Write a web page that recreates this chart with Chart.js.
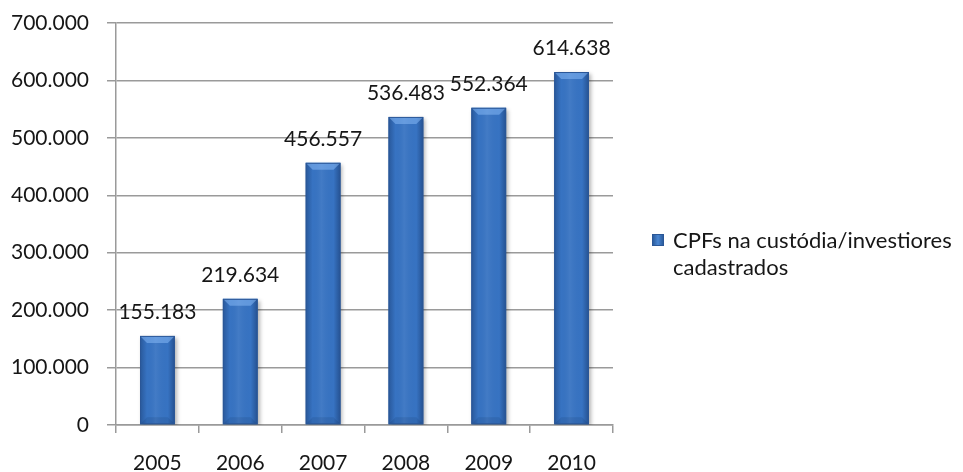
<!DOCTYPE html>
<html>
<head>
<meta charset="utf-8">
<script src="https://cdn.jsdelivr.net/npm/chart.js@4.4.1/dist/chart.umd.min.js"></script>
<style>
  html, body { margin: 0; padding: 0; background: #fff; }
  #wrap { position: relative; width: 963px; height: 472px; }
  #legend {
    position: absolute; left: 652px; top: 226px;
    font-family: Lato, sans-serif; font-size: 22px; line-height: 27px; color: #161616;
  }
  #legend .box {
    position: absolute; left: 0; top: 8px; width: 12px; height: 12px;
    background: linear-gradient(90deg, #2c5d9e, #4a86d2 50%, #2c5d9e);
    border: 1px solid #2b5797; box-sizing: border-box;
  }
  #legend .txt { margin-left: 21px; }
</style>
</head>
<body>
<div id="wrap">
  <canvas id="chart" width="963" height="472"></canvas>
  <div id="legend"><span class="box"></span><div class="txt">CPFs na custódia/investiores<br>cadastrados</div></div>
</div>
<script>
// Dados
const years = ['2005', '2006', '2007', '2008', '2009', '2010'];
const investors = [155183, 219634, 456557, 536483, 552364, 614638];
const yTicks = [0, 100000, 200000, 300000, 400000, 500000, 600000, 700000];

const FONT = 'Lato, sans-serif';
const TEXT = '#161616';

// 700000 -> "700.000"
function fmt(v) {
  return String(Math.round(v)).replace(/\B(?=(\d{3})+(?!\d))/g, '.');
}

// shading that imitates the bevelled Excel bars
const bevelBars = {
  id: 'bevelBars',
  beforeDatasetDraw(chart) {
    const ctx = chart.ctx;
    ctx.save();
    ctx.shadowColor = 'rgba(0,0,0,0.3)';
    ctx.shadowBlur = 4;
    ctx.shadowOffsetX = 2;
    ctx.shadowOffsetY = 2;
  },
  afterDatasetDraw(chart, args) {
    const ctx = chart.ctx;
    ctx.restore();
    args.meta.data.forEach(bar => {
      const x0 = bar.x - bar.width / 2, x1 = bar.x + bar.width / 2;
      const top = bar.y, bottom = bar.base;
      const b = 7;
      ctx.save();
      const g = ctx.createLinearGradient(x0, 0, x1, 0);
      g.addColorStop(0, 'rgba(10,30,70,0.32)');
      g.addColorStop(0.2, 'rgba(10,30,70,0.0)');
      g.addColorStop(0.45, 'rgba(255,255,255,0.06)');
      g.addColorStop(0.8, 'rgba(10,30,70,0.0)');
      g.addColorStop(1, 'rgba(10,30,70,0.40)');
      ctx.fillStyle = g;
      ctx.fillRect(x0, top, x1 - x0, bottom - top);
      // top bevel
      ctx.beginPath();
      ctx.moveTo(x0, top);
      ctx.lineTo(x1, top);
      ctx.lineTo(x1 - b, top + b);
      ctx.lineTo(x0 + b, top + b);
      ctx.closePath();
      ctx.fillStyle = 'rgba(140,190,250,0.5)';
      ctx.fill();
      // bottom bevel
      ctx.beginPath();
      ctx.moveTo(x0, bottom);
      ctx.lineTo(x1, bottom);
      ctx.lineTo(x1 - b, bottom - b);
      ctx.lineTo(x0 + b, bottom - b);
      ctx.closePath();
      ctx.fillStyle = 'rgba(10,30,70,0.12)';
      ctx.fill();
      ctx.strokeStyle = '#2b5797';
      ctx.lineWidth = 1;
      ctx.strokeRect(x0 + 0.5, top + 0.5, x1 - x0 - 1, bottom - top - 1);
      ctx.restore();
    });
  }
};

// value labels above each bar
const valueLabels = {
  id: 'valueLabels',
  afterDatasetsDraw(chart) {
    const ctx = chart.ctx;
    const meta = chart.getDatasetMeta(0);
    ctx.save();
    ctx.font = '21px ' + FONT;
    ctx.fillStyle = TEXT;
    ctx.textAlign = 'center';
    ctx.textBaseline = 'middle';
    meta.data.forEach((bar, i) => {
      ctx.fillText(fmt(investors[i]), bar.x, bar.y - 24);
    });
    ctx.restore();
  }
};

new Chart(document.getElementById('chart'), {
  type: 'bar',
  data: {
    labels: years,
    datasets: [{
      label: 'CPFs na custódia/investiores cadastrados',
      data: investors,
      backgroundColor: '#3773c2',
      borderWidth: 0,
      categoryPercentage: 1,
      barPercentage: 0.42,
    }],
  },
  options: {
    responsive: false,
    animation: false,
    events: [],
    layout: { padding: { left: 0, right: 350, top: 23, bottom: 0 } },
    plugins: { legend: { display: false }, tooltip: { enabled: false } },
    scales: {
      x: {
        afterFit: s => { s.height = 47; s.paddingLeft = 0; s.paddingRight = 0; },
        grid: { drawOnChartArea: false, drawTicks: true, tickLength: 8, color: '#9a9a9a', lineWidth: 1.5 },
        border: { color: '#9a9a9a', width: 1.5 },
        ticks: { color: TEXT, font: { family: FONT, size: 21 }, padding: 18 },
      },
      y: {
        min: 0,
        max: 700000,
        afterFit: s => { s.width = 116; s.paddingTop = 0; s.paddingBottom = 0; },
        afterBuildTicks: s => { s.ticks = yTicks.map(v => ({ value: v })); },
        grid: { color: '#9a9a9a', lineWidth: 1.5, tickLength: 9 },
        border: { color: '#9a9a9a', width: 1.5 },
        ticks: { color: TEXT, font: { family: FONT, size: 21 }, padding: 18, callback: v => fmt(v) },
      },
    },
  },
  plugins: [bevelBars, valueLabels],
});
</script>
</body>
</html>
